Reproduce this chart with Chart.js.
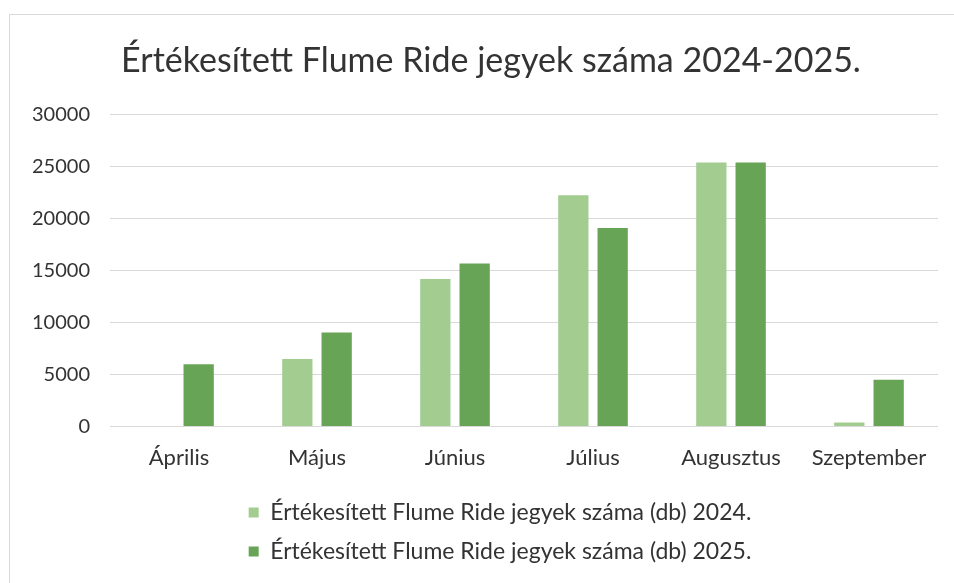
<!DOCTYPE html>
<html>
<head>
<meta charset="utf-8">
<script src="https://cdn.jsdelivr.net/npm/chart.js@4"></script>
<style>
html,body{margin:0;padding:0;background:#fff;}
#wrap{position:relative;width:954px;height:583px;}
#frame{position:absolute;left:9px;top:14px;width:960px;height:600px;border:1px solid #d9d9d9;box-sizing:border-box;}
canvas{position:absolute;left:0;top:0;}
</style>
</head>
<body>
<div id="wrap"><div id="frame"></div><canvas id="c" width="954" height="583"></canvas></div>
<script>
const categories = ["Április", "Május", "Június", "Július", "Augusztus", "Szeptember"];
const values2024 = [0, 6500, 14200, 22250, 25400, 400];
const values2025 = [6000, 9050, 15700, 19100, 25400, 4500];
const label2024 = "Értékesített Flume Ride jegyek száma (db) 2024.";
const label2025 = "Értékesített Flume Ride jegyek száma (db) 2025.";
const titleText = "Értékesített Flume Ride jegyek száma 2024-2025.";

const FONT = "Lato, 'Open Sans', sans-serif";

const shiftBlocks = {
  id: 'shiftBlocks',
  afterLayout(chart) {
    if (chart.titleBlock) { chart.titleBlock.left = 44; }
    if (chart.legend) { chart.legend.left = 62; chart.legend.adjustHitBoxes(); }
  }
};

new Chart(document.getElementById('c'), {
  type: 'bar',
  data: {
    labels: categories,
    datasets: [
      {label: label2024, data: values2024, backgroundColor: '#a3cc90', categoryPercentage: 0.57, barPercentage: 0.77},
      {label: label2025, data: values2025, backgroundColor: '#68a456', categoryPercentage: 0.57, barPercentage: 0.77}
    ]
  },
  plugins: [shiftBlocks],
  options: {
    responsive: false,
    animation: false,
    layout: {padding: {left: 0, right: 16, top: 0, bottom: 10}},
    plugins: {
      title: {display: true, text: titleText, color: '#333333',
        font: {family: FONT, size: 34, weight: 'normal'}, padding: {top: 41, bottom: 33}},
      legend: {position: 'bottom', labels: {color: '#333333', boxWidth: 10, boxHeight: 10, padding: 16,
        font: {family: FONT, size: 23}}},
      tooltip: {enabled: false}
    },
    scales: {
      x: {grid: {display: false, drawTicks: false}, border: {display: false},
        ticks: {color: '#333333', padding: 18, font: {family: FONT, size: 22}},
        afterFit: s => { s.height -= 4; }},
      y: {min: 0, max: 30000, ticks: {stepSize: 5000, color: '#333333', padding: 20, font: {family: FONT, size: 20},
          callback: v => String(v)},
        grid: {color: '#d9d9d9', drawTicks: false}, border: {display: false},
        afterFit: s => { s.width = 110; }}
    }
  }
});
</script>
</body>
</html>
